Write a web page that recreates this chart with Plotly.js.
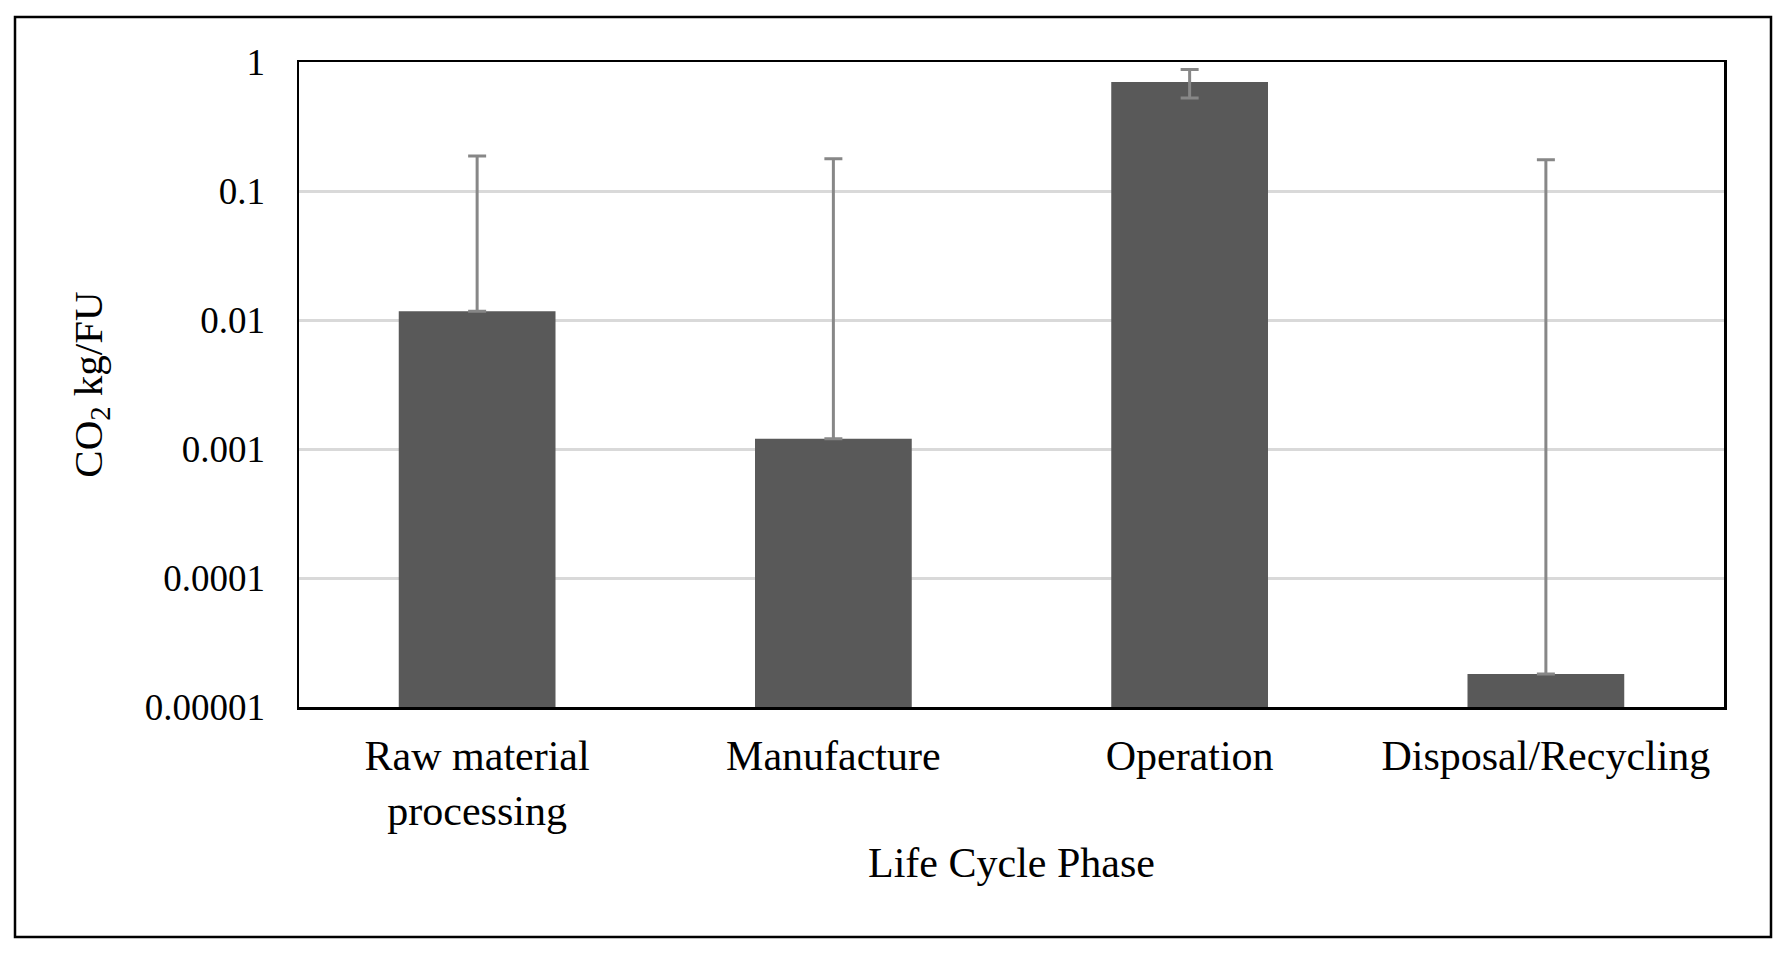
<!DOCTYPE html>
<html>
<head>
<meta charset="utf-8">
<script src="https://cdn.plot.ly/plotly-3.0.1.min.js"></script>
<style>
  html, body { margin: 0; padding: 0; background: #fff; }
  #chart { width: 1788px; height: 954px; }
</style>
</head>
<body>
<div id="chart"></div>
<script>
// Data
const categories = ["Raw material<br>processing", "Manufacture", "Operation", "Disposal/Recycling"];
const co2Values = [0.0117, 0.0012, 0.70, 0.000018];
const errPlus = [0.175, 0.177, 0.175, 0.175];
const errMinus = [0, 0, 0.175, 0];
const yTickVals = [0.00001, 0.0001, 0.001, 0.01, 0.1, 1];
const yTickText = ["0.00001", "0.0001", "0.001", "0.01", "0.1", "1"];

const W = 1788, H = 954;
const M = { l: 299, r: 64, t: 62, b: 247 };
const pw = W - M.l - M.r, ph = H - M.t - M.b;
const px = x => (x - M.l) / pw;
const py = y => (H - M.b - y) / ph;

const font = "'Liberation Serif', 'Times New Roman', Times, serif";

const trace = {
  type: "bar",
  x: categories,
  y: co2Values,
  marker: { color: "#595959", line: { width: 0 } },
  error_y: {
    type: "data",
    symmetric: false,
    array: errPlus,
    arrayminus: errMinus,
    color: "#878787",
    thickness: 3,
    width: 9
  },
  hoverinfo: "x+y"
};

const layout = {
  width: W,
  height: H,
  margin: M,
  paper_bgcolor: "#fff",
  plot_bgcolor: "#fff",
  showlegend: false,
  bargap: 0.56,
  font: { family: font, color: "#000" },
  xaxis: {
    type: "category",
    showline: true,
    mirror: true,
    linecolor: "#000",
    linewidth: 2.5,
    showgrid: false,
    ticks: "",
    tickfont: { family: font, size: 42, color: "#000" },
    ticklabelstandoff: 10,
    title: { text: "Life Cycle Phase", font: { family: font, size: 42, color: "#000" }, standoff: 15 }
  },
  yaxis: {
    type: "log",
    range: [-5, 0],
    tickvals: yTickVals,
    ticktext: yTickText,
    showline: true,
    mirror: true,
    linecolor: "#000",
    linewidth: 2.5,
    showgrid: true,
    gridcolor: "#d9d9d9",
    gridwidth: 3,
    zeroline: false,
    ticks: "",
    tickfont: { family: font, size: 37, color: "#000" },
    ticklabelstandoff: 24,
    title: { text: "CO<sub>2</sub> kg/FU", font: { family: font, size: 41, color: "#000" }, standoff: 30 }
  },
  shapes: [
    {
      type: "rect",
      xref: "paper", yref: "paper",
      x0: px(15), x1: px(1771), y0: py(17), y1: py(937),
      line: { color: "#000", width: 2.5 },
      fillcolor: "rgba(0,0,0,0)",
      layer: "below"
    }
  ]
};

Plotly.newPlot("chart", [trace], layout, { displayModeBar: false, staticPlot: true });
</script>
</body>
</html>
